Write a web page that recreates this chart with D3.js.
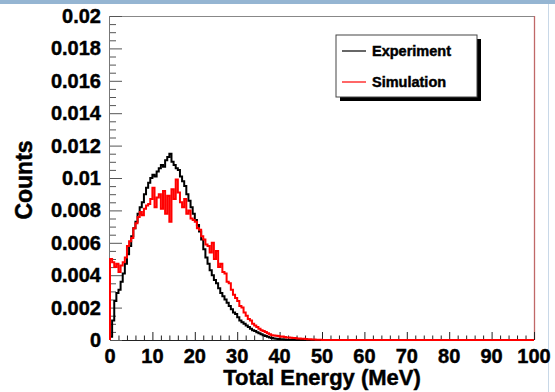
<!DOCTYPE html>
<html>
<head>
<meta charset="utf-8">
<script src="https://cdn.jsdelivr.net/npm/d3@7"></script>
<style>
  html, body { margin: 0; padding: 0; background: #fff; }
  svg { display: block; }
  text { font-family: "Liberation Sans", Arial, Helvetica, sans-serif; font-weight: bold; fill: #000; stroke: #000; stroke-width: 0.45px; }
</style>
</head>
<body>
<svg id="chart" width="555" height="392"></svg>
<script>
// ---- data ----
const binWidth = 0.5; // MeV, bins start at 0
const experiment = [
  0.0002, 0.0012, 0.0024, 0.0029, 0.0031, 0.0036, 0.0041, 0.0047, 0.0053, 0.0058,
  0.0064, 0.0069, 0.0073, 0.0078, 0.0082, 0.0085, 0.0090, 0.0094, 0.0097, 0.0100,
  0.0102, 0.0101, 0.0104, 0.0106, 0.0108, 0.0107, 0.0111, 0.0113, 0.0115, 0.0110,
  0.0108, 0.0106, 0.0105, 0.0101, 0.0098, 0.0095, 0.0090, 0.0086, 0.0082, 0.0078,
  0.0074, 0.0071, 0.0067, 0.0062, 0.0056, 0.0051, 0.0047, 0.0043, 0.0040, 0.0037,
  0.0035, 0.0032, 0.0029, 0.0027, 0.0025, 0.0023, 0.0021, 0.0019, 0.0017, 0.0016,
  0.0014, 0.0012, 0.0011, 0.0010, 0.0009, 0.0008, 0.0007, 0.0006, 0.00055, 0.00048,
  0.00042, 0.00036, 0.0003, 0.00024, 0.0002, 0.00016, 0.00012, 0.0001, 0.00008, 0.00006,
  0.00005, 0.00004, 0.00003, 0.00002, 0.00001, 0.00001, 0.00001, 0.00001, 0, 0,
  0, 0, 0, 0, 0, 0, 0, 0, 0, 0
];
const simulation = [
  0.0050, 0.0048, 0.0045, 0.0047, 0.0042, 0.0046, 0.0048, 0.0051, 0.0058, 0.0061,
  0.0063, 0.0069, 0.0072, 0.0076, 0.0079, 0.0077, 0.0081, 0.0083, 0.0084, 0.0087,
  0.0094, 0.0082, 0.0088, 0.0090, 0.0081, 0.0092, 0.0078, 0.0089, 0.0073, 0.0093,
  0.0087, 0.0099, 0.0091, 0.0085, 0.0082, 0.0087, 0.0078, 0.0080, 0.0075, 0.0074,
  0.0073, 0.0069, 0.0068, 0.0064, 0.0062, 0.0059, 0.0058, 0.0054, 0.0060, 0.0050,
  0.0055, 0.0045, 0.0047, 0.0042, 0.0041, 0.0036, 0.0035, 0.0031, 0.0028, 0.0026,
  0.0024, 0.0021, 0.0020, 0.0017, 0.0015, 0.0013, 0.0012, 0.0010, 0.0009, 0.0008,
  0.0007, 0.0006, 0.00055, 0.0005, 0.00042, 0.00036, 0.0003, 0.00028, 0.00026, 0.00024,
  0.0002, 0.00022, 0.00018, 0.00016, 0.00015, 0.00014, 0.00012, 0.00013, 0.0001, 0.00009,
  0.00008, 0.00007, 0.00006, 0.00005, 0.00004, 0.00003, 0.00003, 0.00002, 0.00002, 0.00001
];
const xTicks = [0, 10, 20, 30, 40, 50, 60, 70, 80, 90, 100];
const yTicks = [0, 0.002, 0.004, 0.006, 0.008, 0.01, 0.012, 0.014, 0.016, 0.018, 0.02];
const yTickLabels = ["0", "0.002", "0.004", "0.006", "0.008", "0.01", "0.012", "0.014", "0.016", "0.018", "0.02"];
const seriesNames = ["Experiment", "Simulation"];
const seriesColors = ["#000000", "#ff0000"];
const xTitle = "Total Energy (MeV)";
const yTitle = "Counts";

// ---- layout ----
const svg = d3.select("#chart");
const X0 = 110, X1 = 534, Y0 = 340, Y1 = 16;
const x = d3.scaleLinear().domain([0, 100]).range([X0, X1]);
const y = d3.scaleLinear().domain([0, 0.02]).range([Y0, Y1]);

// page decoration (top bar and right rule)
svg.append("rect").attr("x", 0).attr("y", 0).attr("width", 555).attr("height", 4).attr("fill", "#95b5d2");
svg.append("line").attr("x1", 548.5).attr("x2", 548.5).attr("y1", 4).attr("y2", 392).attr("stroke", "#c8d8e8").attr("stroke-width", 1);

// frame
svg.append("line").attr("x1", X0).attr("x2", X1).attr("y1", Y1 + 0.5).attr("y2", Y1 + 0.5).attr("stroke", "#888").attr("stroke-width", 1);
svg.append("line").attr("x1", X1 + 0.5).attr("x2", X1 + 0.5).attr("y1", Y1).attr("y2", Y0).attr("stroke", "#c06868").attr("stroke-width", 1.3);
svg.append("line").attr("x1", X0 - 0.5).attr("x2", X0 - 0.5).attr("y1", Y1).attr("y2", Y0).attr("stroke", "#777").attr("stroke-width", 1);
svg.append("line").attr("x1", X0).attr("x2", X1).attr("y1", Y0 + 0.5).attr("y2", Y0 + 0.5).attr("stroke", "#222").attr("stroke-width", 1.2);

// x axis ticks (inside, pointing up)
const xAxis = d3.axisTop(x).tickValues(xTicks).tickSize(8).tickFormat("");
const gx = svg.append("g").attr("transform", `translate(0,${Y0})`).call(xAxis);
gx.select(".domain").remove();
gx.selectAll(".tick line").attr("stroke", "#222").attr("stroke-width", 1);
const xMinor = d3.axisTop(x).tickValues(d3.range(0, 101, 2).filter(v => v % 10 !== 0)).tickSize(4.5).tickFormat("");
const gxm = svg.append("g").attr("transform", `translate(0,${Y0})`).call(xMinor);
gxm.select(".domain").remove();
gxm.selectAll(".tick line").attr("stroke", "#222").attr("stroke-width", 1);
svg.append("g").selectAll("text").data(xTicks).join("text")
  .attr("x", d => x(d)).attr("y", 363)
  .attr("text-anchor", "middle").attr("font-size", 20).text(d => d);

// y axis ticks (inside, pointing right)
const yAxis = d3.axisRight(y).tickValues(yTicks).tickSize(12).tickFormat("");
const gy = svg.append("g").attr("transform", `translate(${X0},0)`).call(yAxis);
gy.select(".domain").remove();
gy.selectAll(".tick line").attr("stroke", "#555").attr("stroke-width", 1);
const yMinor = d3.axisRight(y).tickValues(d3.range(0, 0.02001, 0.0005).filter((v, i) => i % 4 !== 0)).tickSize(6).tickFormat("");
const gym = svg.append("g").attr("transform", `translate(${X0},0)`).call(yMinor);
gym.select(".domain").remove();
gym.selectAll(".tick line").attr("stroke", "#555").attr("stroke-width", 1);
svg.append("g").selectAll("text").data(yTicks).join("text")
  .attr("x", 101).attr("y", d => y(d) + 7)
  .attr("text-anchor", "end").attr("font-size", 20).text((d, i) => yTickLabels[i]);

// titles
svg.append("text").attr("x", 322).attr("y", 385).attr("text-anchor", "middle").attr("font-size", 22).text(xTitle);
svg.append("text").attr("transform", "translate(32,180) rotate(-90)").attr("text-anchor", "middle").attr("font-size", 23).text(yTitle);

// histograms
function histPoints(vals) {
  const pts = [[0, 0]];
  vals.forEach((v, i) => {
    pts.push([i * binWidth, v]);
    pts.push([(i + 1) * binWidth, v]);
  });
  pts.push([vals.length * binWidth, 0]);
  pts.push([100, 0]);
  return pts;
}
const line = d3.line().x(d => x(d[0])).y(d => y(d[1]));
[experiment, simulation].forEach((vals, k) => {
  svg.append("path").attr("d", line(histPoints(vals)))
    .attr("fill", "none").attr("stroke", seriesColors[k]).attr("stroke-width", 2)
    .attr("stroke-linejoin", "miter");
});

// legend
const L = { x: 336, y: 35, w: 141, h: 62 };
svg.append("rect").attr("x", L.x + 4).attr("y", L.y + 4).attr("width", L.w).attr("height", L.h).attr("fill", "#000");
svg.append("rect").attr("x", L.x).attr("y", L.y).attr("width", L.w).attr("height", L.h).attr("fill", "#fff").attr("stroke", "#444").attr("stroke-width", 1);
seriesNames.forEach((name, i) => {
  const cy = L.y + 16 + i * 31;
  svg.append("line").attr("x1", L.x + 6).attr("x2", L.x + 30).attr("y1", cy).attr("y2", cy)
    .attr("stroke", seriesColors[i]).attr("stroke-width", 1.2);
  svg.append("text").attr("x", L.x + 36).attr("y", cy + 5).attr("font-size", 14.5).attr("stroke-width", 0.3).text(name);
});
</script>
</body>
</html>
